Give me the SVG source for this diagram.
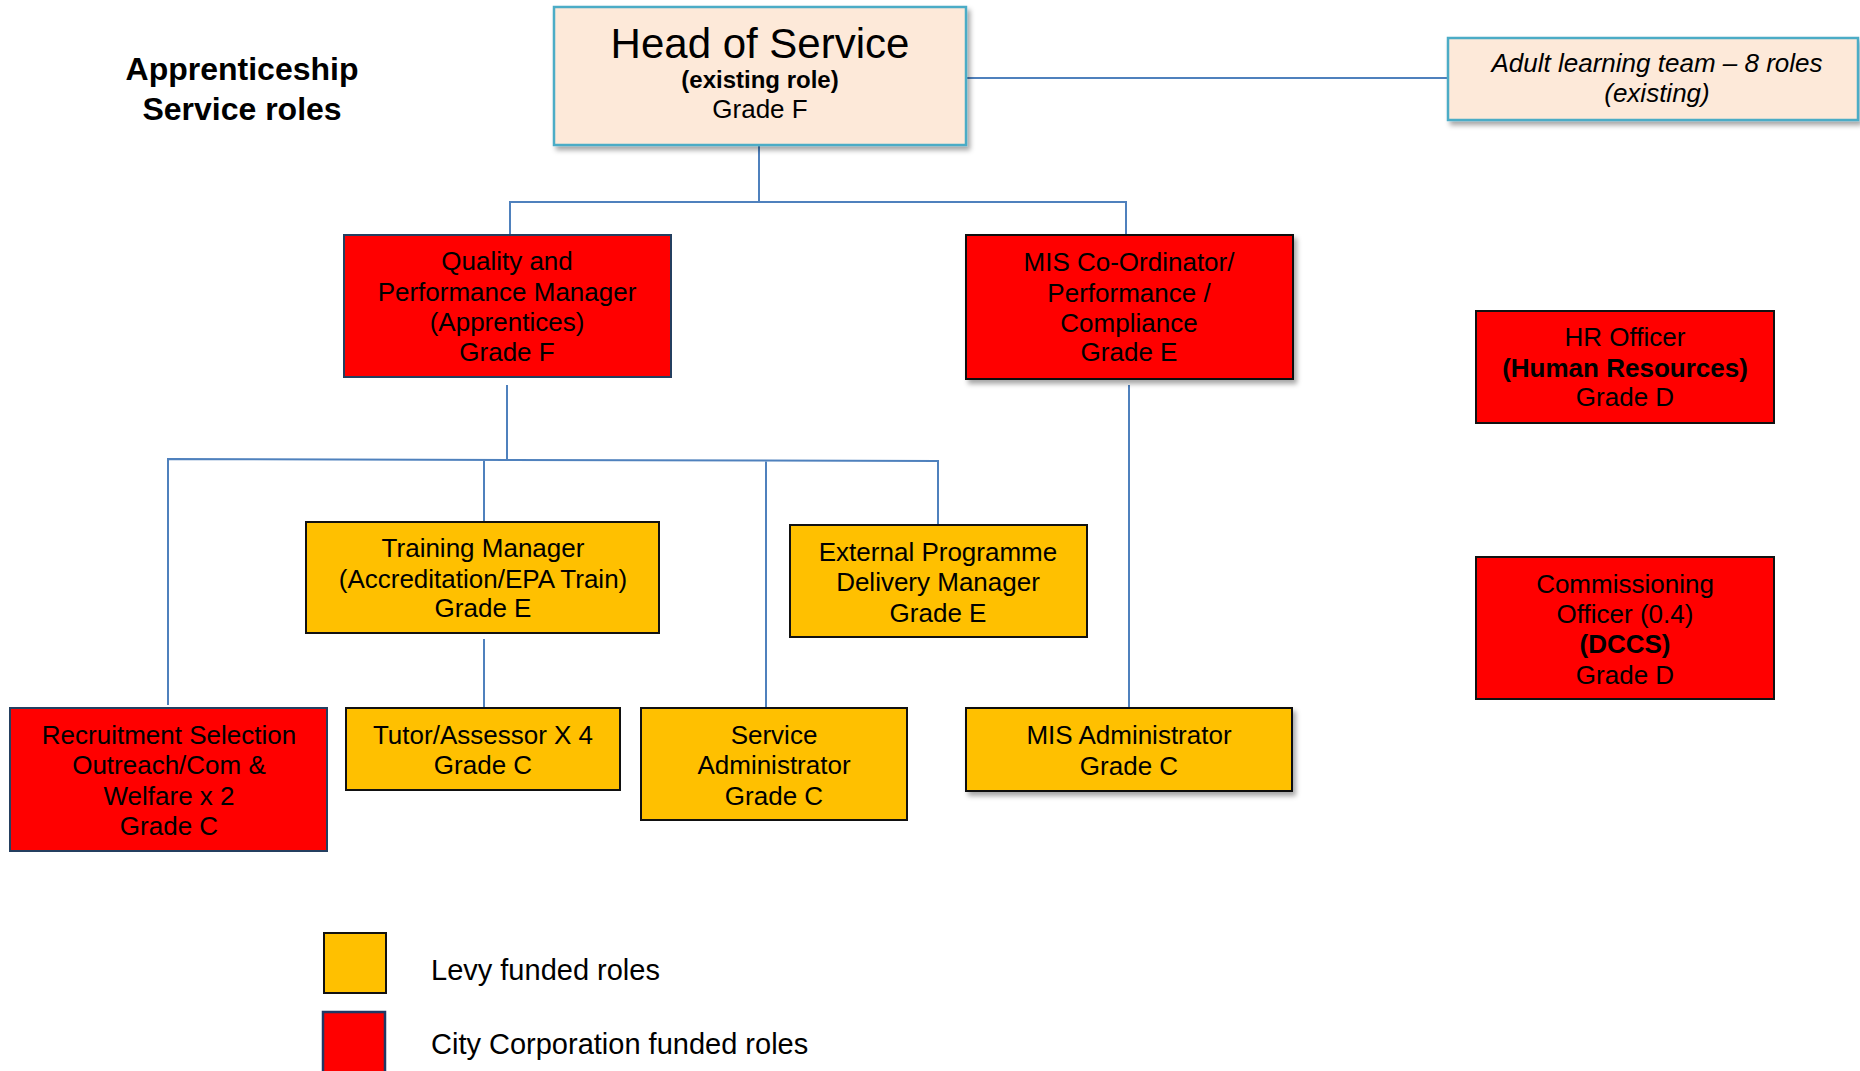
<svg xmlns="http://www.w3.org/2000/svg" width="1860" height="1071" viewBox="0 0 1860 1071">
<style>
text{font-family:"Liberation Sans",Arial,sans-serif;fill:#000;text-anchor:middle}
.t{font-size:26px}
.b{font-weight:bold}
.red{fill:#ff0000}
.yel{fill:#ffc000}
.blk{stroke:#111;stroke-width:2}
.nav{stroke:#243f60;stroke-width:2}
.peach{fill:#fde9d9;stroke:#4bacc6;stroke-width:2.5}
.conn{stroke:#4f81bd;stroke-width:2;fill:none}
</style>
<defs>
<filter id="sh" x="-10%" y="-10%" width="130%" height="130%">
<feDropShadow dx="3" dy="4" stdDeviation="2.5" flood-color="#000" flood-opacity="0.35"/>
</filter>
</defs>
<rect width="1860" height="1071" fill="#fff"/>

<g id="title">
<text x="242" y="80" font-size="32" class="b">Apprenticeship</text>
<text x="242" y="120" font-size="32" class="b">Service roles</text>
</g>

<g id="connectors">
<path class="conn" d="M966 78 H1448"/>
<path class="conn" d="M759 145 V202 M510 236 V202 H1126 V235"/>
<path class="conn" d="M507 385 V459 M168 705 V459 L938 461 V525 M484 459 V522 M766 460 V707"/>
<path class="conn" d="M484 639 V708"/>
<path class="conn" d="M1129 385 V708"/>
</g>

<g id="head">
<rect x="554" y="7" width="412" height="138" class="peach" filter="url(#sh)"/>
<text x="760" y="58" font-size="42">Head of Service</text>
<text x="760" y="88" font-size="24" class="b">(existing role)</text>
<text x="760" y="118" class="t">Grade F</text>
</g>

<g id="adult">
<rect x="1448" y="38" width="410" height="82" class="peach" filter="url(#sh)"/>
<text x="1657" y="72" class="t" font-style="italic">Adult learning team – 8 roles</text>
<text x="1657" y="102" class="t" font-style="italic">(existing)</text>
</g>

<g id="quality">
<rect x="344" y="235" width="327" height="142" class="red nav"/>
<text x="507" y="270" class="t">Quality and</text>
<text x="507" y="301" class="t">Performance Manager</text>
<text x="507" y="331" class="t">(Apprentices)</text>
<text x="507" y="361" class="t">Grade F</text>
</g>

<g id="mis-coord">
<rect x="966" y="235" width="327" height="144" class="red blk" filter="url(#sh)"/>
<text x="1129" y="271" class="t">MIS Co-Ordinator/</text>
<text x="1129" y="302" class="t">Performance /</text>
<text x="1129" y="332" class="t">Compliance</text>
<text x="1129" y="361" class="t">Grade E</text>
</g>

<g id="hr">
<rect x="1476" y="311" width="298" height="112" class="red blk"/>
<text x="1625" y="346" class="t">HR Officer</text>
<text x="1625" y="377" class="t b">(Human Resources)</text>
<text x="1625" y="406" class="t">Grade D</text>
</g>

<g id="commissioning">
<rect x="1476" y="557" width="298" height="142" class="red blk"/>
<text x="1625" y="593" class="t">Commissioning</text>
<text x="1625" y="623" class="t">Officer (0.4)</text>
<text x="1625" y="653" class="t b">(DCCS)</text>
<text x="1625" y="684" class="t">Grade D</text>
</g>

<g id="training">
<rect x="306" y="522" width="353" height="111" class="yel blk"/>
<text x="483" y="557" class="t">Training Manager</text>
<text x="483" y="588" class="t">(Accreditation/EPA Train)</text>
<text x="483" y="617" class="t">Grade E</text>
</g>

<g id="external">
<rect x="790" y="525" width="297" height="112" class="yel blk"/>
<text x="938" y="561" class="t">External Programme</text>
<text x="938" y="591" class="t">Delivery Manager</text>
<text x="938" y="622" class="t">Grade E</text>
</g>

<g id="recruitment">
<rect x="10" y="708" width="317" height="143" class="red nav"/>
<text x="169" y="744" class="t">Recruitment Selection</text>
<text x="169" y="774" class="t">Outreach/Com &amp;</text>
<text x="169" y="805" class="t">Welfare x 2</text>
<text x="169" y="835" class="t">Grade C</text>
</g>

<g id="tutor">
<rect x="346" y="708" width="274" height="82" class="yel blk"/>
<text x="483" y="744" class="t">Tutor/Assessor X 4</text>
<text x="483" y="774" class="t">Grade C</text>
</g>

<g id="service-admin">
<rect x="641" y="708" width="266" height="112" class="yel blk"/>
<text x="774" y="744" class="t">Service</text>
<text x="774" y="774" class="t">Administrator</text>
<text x="774" y="805" class="t">Grade C</text>
</g>

<g id="mis-admin">
<rect x="966" y="708" width="326" height="83" class="yel blk" filter="url(#sh)"/>
<text x="1129" y="744" class="t">MIS Administrator</text>
<text x="1129" y="775" class="t">Grade C</text>
</g>

<g id="legend">
<rect x="324" y="933" width="62" height="60" class="yel blk"/>
<rect x="323" y="1012" width="62" height="70" class="red" stroke="#1f3864" stroke-width="2.5"/>
<text x="431" y="980" font-size="29" style="text-anchor:start">Levy funded roles</text>
<text x="431" y="1054" font-size="29" style="text-anchor:start">City Corporation funded roles</text>
</g>
</svg>
